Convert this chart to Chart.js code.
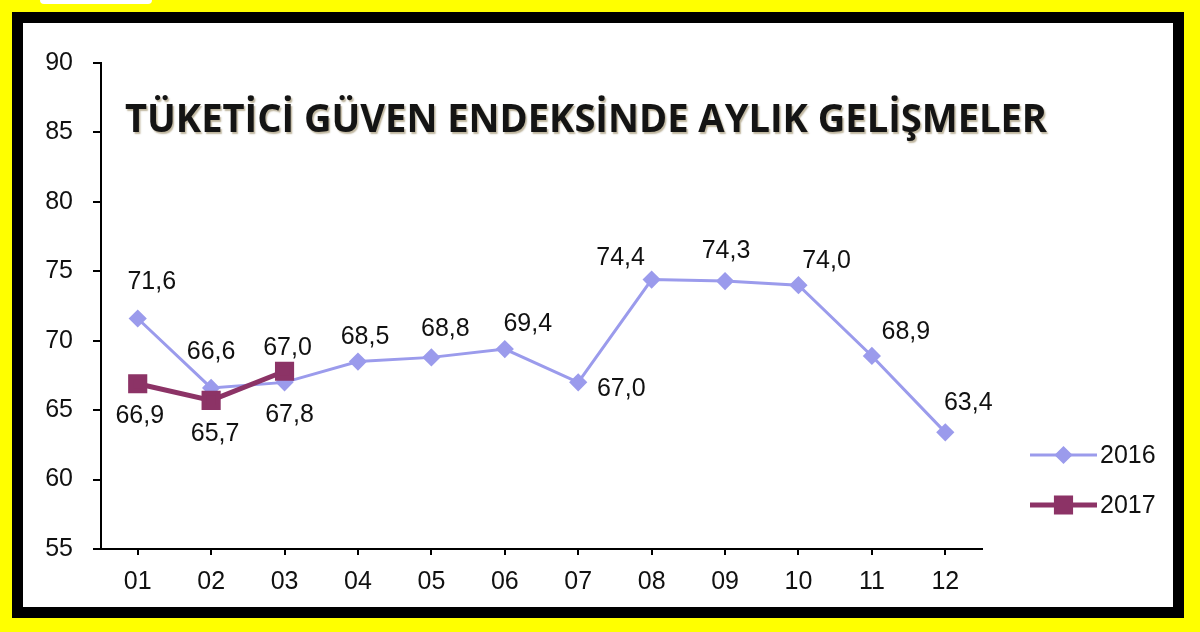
<!DOCTYPE html>
<html lang="tr">
<head>
    <meta charset="UTF-8">
    <title>Tüketici Güven Endeksi</title>
    <script src="https://cdn.jsdelivr.net/npm/chart.js"></script>
    <style>
        body {
            margin: 0;
            width: 1200px;
            height: 632px;
            background-color: #ffff00;
            position: relative;
            overflow: hidden;
        }
        #blob {
            position: absolute;
            left: 40px;
            top: 0;
            width: 112px;
            height: 4px;
            background: #fff;
            border-radius: 0 0 6px 6px;
        }
        #frame {
            position: absolute;
            left: 12px;
            top: 12px;
            width: 1150px;
            height: 584px;
            border: 11px solid #000;
            background-color: #fff;
        }
    </style>
</head>
<body>
    <div id="blob"></div>
    <div id="frame">
        <canvas id="confidenceChart"></canvas>
    </div>

    <script>
        // Data
        const months = ['01', '02', '03', '04', '05', '06', '07', '08', '09', '10', '11', '12'];
        const values2016 = [71.6, 66.6, 67.0, 68.5, 68.8, 69.4, 67.0, 74.4, 74.3, 74.0, 68.9, 63.4];
        const values2017 = [66.9, 65.7, 67.8];
        const seriesNames = ['2016', '2017'];
        const yMin = 55;
        const yMax = 90;
        const yStep = 5;
        const chartTitle = 'TÜKETİCİ GÜVEN ENDEKSİNDE AYLIK GELİŞMELER';

        // label placement (dx, dy from each point), hand tuned like the original
        const labelOffsets = [
            [[14, -36], [0, -36], [3, -34], [7, -24], [14, -28], [23, -25], [43, 7], [-31, -22], [1, -30], [28, -24], [34, -24], [23, -29]],
            [[2, 32], [4, 34], [5, 44]]
        ];

        const textFont = '25px "Liberation Sans", Arial, sans-serif';

        const fmt = v => v.toFixed(1).replace('.', ',');

        // value labels next to the points
        const valueLabels = {
            id: 'valueLabels',
            afterDatasetsDraw(chart) {
                const ctx = chart.ctx;
                ctx.save();
                ctx.font = textFont;
                ctx.fillStyle = '#111';
                ctx.textAlign = 'center';
                ctx.textBaseline = 'middle';
                chart.data.datasets.forEach((ds, di) => {
                    const meta = chart.getDatasetMeta(di);
                    meta.data.forEach((pt, i) => {
                        const off = labelOffsets[di][i] || [0, -30];
                        ctx.fillText(fmt(ds.data[i]), pt.x + off[0], pt.y + off[1]);
                    });
                });
                ctx.restore();
            }
        };

        // big bold title inside the plot area
        const bigTitle = {
            id: 'bigTitle',
            afterDraw(chart) {
                const ctx = chart.ctx;
                const area = chart.chartArea;
                ctx.save();
                ctx.font = 'bold 40px "Open Sans", sans-serif';
                const w = ctx.measureText(chartTitle).width;
                ctx.translate(area.left + 24, area.top + 69);
                ctx.scale(922 / w, 1);
                ctx.textBaseline = 'alphabetic';
                ctx.shadowColor = 'rgba(110, 90, 40, 0.45)';
                ctx.shadowOffsetX = 1.5;
                ctx.shadowOffsetY = 1.5;
                ctx.shadowBlur = 1.5;
                ctx.fillStyle = '#141414';
                ctx.fillText(chartTitle, 0, 0);
                ctx.restore();
            }
        };

        // legend on the right: line with marker, then the year
        const sideLegend = {
            id: 'sideLegend',
            afterDraw(chart) {
                const ctx = chart.ctx;
                const area = chart.chartArea;
                const x0 = area.right + 48;
                const x1 = area.right + 115;
                const rows = [area.bottom - 94, area.bottom - 44];
                ctx.save();
                ctx.font = textFont;
                ctx.textBaseline = 'middle';
                ctx.textAlign = 'left';
                chart.data.datasets.forEach((ds, di) => {
                    const y = rows[di];
                    ctx.strokeStyle = ds.borderColor;
                    ctx.lineWidth = ds.borderWidth;
                    ctx.beginPath();
                    ctx.moveTo(x0, y);
                    ctx.lineTo(x1, y);
                    ctx.stroke();
                    Chart.helpers.drawPoint(ctx, {
                        pointStyle: ds.pointStyle,
                        radius: ds.pointRadius,
                        borderWidth: 1
                    }, (x0 + x1) / 2, y);
                    ctx.fillStyle = ds.pointBackgroundColor;
                    ctx.fill();
                    ctx.fillStyle = '#111';
                    ctx.fillText(seriesNames[di], x1 + 3, y + 1);
                });
                ctx.restore();
            }
        };

        const ctx = document.getElementById('confidenceChart').getContext('2d');
        const confidenceChart = new Chart(ctx, {
            type: 'line',
            data: {
                labels: months,
                datasets: [{
                    label: seriesNames[0],
                    data: values2016,
                    borderColor: '#9b9bec',
                    backgroundColor: '#9b9bec',
                    pointBackgroundColor: '#9b9bec',
                    pointBorderColor: '#9b9bec',
                    borderWidth: 3,
                    pointStyle: 'rectRot',
                    pointRadius: 7,
                    tension: 0,
                    order: 1
                }, {
                    label: seriesNames[1],
                    data: values2017,
                    borderColor: '#8c3366',
                    backgroundColor: '#8c3366',
                    pointBackgroundColor: '#8c3366',
                    pointBorderColor: '#8c3366',
                    borderWidth: 5,
                    pointStyle: 'rect',
                    pointRadius: 10,
                    tension: 0,
                    order: 0
                }]
            },
            options: {
                responsive: true,
                maintainAspectRatio: false,
                animation: false,
                layout: {
                    padding: { top: 40, right: 191, left: 0, bottom: 0 }
                },
                plugins: {
                    legend: { display: false },
                    title: { display: false },
                    tooltip: { enabled: false }
                },
                scales: {
                    x: {
                        offset: true,
                        afterFit(scale) { scale.height = 58; },
                        border: { color: '#000', width: 2 },
                        grid: {
                            drawOnChartArea: false,
                            color: '#000',
                            lineWidth: 2,
                            tickLength: 6
                        },
                        ticks: {
                            color: '#111',
                            font: { family: '"Liberation Sans", Arial, sans-serif', size: 25 },
                            padding: 12,
                            maxRotation: 0
                        }
                    },
                    y: {
                        min: yMin,
                        max: yMax,
                        afterFit(scale) { scale.width = 78; },
                        border: { color: '#000', width: 2 },
                        grid: {
                            drawOnChartArea: false,
                            color: '#000',
                            lineWidth: 2,
                            tickLength: 8
                        },
                        ticks: {
                            stepSize: yStep,
                            color: '#111',
                            font: { family: '"Liberation Sans", Arial, sans-serif', size: 25 },
                            padding: 20
                        }
                    }
                }
            },
            plugins: [valueLabels, bigTitle, sideLegend]
        });
    </script>
</body>
</html>
